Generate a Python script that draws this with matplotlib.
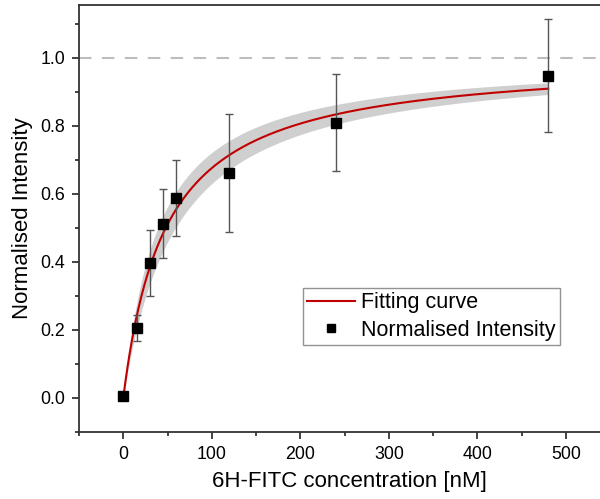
import numpy as np
import matplotlib
matplotlib.use("Agg")
import matplotlib.pyplot as plt
from matplotlib.ticker import MultipleLocator

plt.rcParams["font.family"] = ["Liberation Sans", "DejaVu Sans"]

conc = [0, 15, 30, 45, 60, 120, 240, 480]
intensity = [0.005, 0.206, 0.397, 0.512, 0.587, 0.662, 0.809, 0.947]
err = [0.0, 0.038, 0.097, 0.102, 0.112, 0.173, 0.143, 0.166]

# one-site binding fit  y = Bmax*x/(Kd+x), with Kd uncertainty for the band
bmax = 1.0
kd = 48.0
kd_err = 10.0

x_fit = np.linspace(0, 480, 400)
y_fit = bmax * x_fit / (kd + x_fit)
band = bmax * x_fit * kd_err / (kd + x_fit) ** 2

fig = plt.figure(figsize=(6, 4.99), dpi=100)
ax = fig.add_axes([79 / 600, 67 / 499, 540 / 600, 427 / 499])

ax.fill_between(x_fit, y_fit - band, y_fit + band, color="#cfcfcf", lw=0, zorder=1)
ax.plot(x_fit, y_fit, color="#c00000", lw=1.5, label="Fitting curve", zorder=3)
ax.axhline(1.0, color="#bdbdbd", lw=1.5, ls=(0, (6, 5)), zorder=2)
ax.errorbar(conc, intensity, yerr=err, fmt="none", ecolor="#555555",
            elinewidth=1, capsize=3, capthick=1, zorder=4)
ax.plot(conc, intensity, "s", color="black", ms=7.5, ls="none",
        label="Normalised Intensity", zorder=5)

ax.set_xlim(-50, 560)
ax.set_ylim(-0.1, 1.155)
ax.xaxis.set_major_locator(MultipleLocator(100))
ax.xaxis.set_minor_locator(MultipleLocator(50))
ax.yaxis.set_major_locator(MultipleLocator(0.2))
ax.yaxis.set_minor_locator(MultipleLocator(0.1))
ax.yaxis.set_major_formatter(plt.FormatStrFormatter("%.1f"))
ax.tick_params(which="major", direction="out", length=5, width=1.2,
               labelsize=12.8, pad=5, color="#222222")
ax.tick_params(which="minor", direction="out", length=3, width=1.2, color="#222222")

for side in ["left", "bottom", "top"]:
    ax.spines[side].set_color("#333333")
    ax.spines[side].set_linewidth(1.3)
ax.spines["right"].set_visible(False)

ax.set_xlabel("6H-FITC concentration [nM]", fontsize=16, labelpad=6)
ax.set_ylabel("Normalised Intensity", fontsize=16, labelpad=5)

leg = ax.legend(loc="upper left", bbox_to_anchor=(303 / 600, 1 - 288 / 499),
                bbox_transform=fig.transFigure, fontsize=15.5, frameon=True,
                fancybox=False, edgecolor="#777777", markerscale=0.75,
                handlelength=2.2, borderpad=0.2, labelspacing=0.3,
                handletextpad=0.3, borderaxespad=0)
leg.get_frame().set_linewidth(1.0)

fig.savefig("out.png", dpi=100)
